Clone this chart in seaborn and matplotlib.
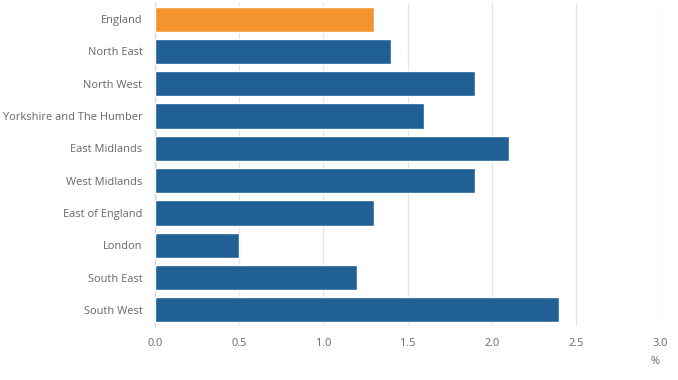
import matplotlib
matplotlib.use("Agg")
import matplotlib.pyplot as plt
import seaborn as sns
import pandas as pd
import numpy as np

# Regions and their values (%)
regions = ["England", "North East", "North West", "Yorkshire and The Humber",
           "East Midlands", "West Midlands", "East of England", "London",
           "South East", "South West"]
values = [1.3, 1.4, 1.9, 1.6, 2.1, 1.9, 1.3, 0.5, 1.2, 2.4]
x_ticks = [0.0, 0.5, 1.0, 1.5, 2.0, 2.5, 3.0]

blue = "#206095"
orange = "#f39431"
grey_text = "#666666"
axis_col = "#ccd6eb"

df = pd.DataFrame({"region": regions, "value": values})
palette = {r: (orange if r == "England" else blue) for r in regions}

sns.set_theme(style="white")
plt.rcParams["font.family"] = ["Open Sans", "DejaVu Sans"]

fig = plt.figure(figsize=(6.78, 3.80), dpi=100)
ax = fig.add_axes([155 / 678, 1 - 326 / 380, 505 / 678, 323 / 380])

sns.barplot(data=df, y="region", x="value", hue="region", palette=palette,
            order=regions, width=0.78, legend=False, saturation=1, ax=ax, zorder=3)

ax.set_xlim(0, 3.0)
ax.set_ylim(len(regions) - 0.5, -0.5)
ax.set_xticks(x_ticks)
ax.set_xticklabels([f"{t:.1f}" for t in x_ticks])
ax.xaxis.grid(True, color="#e6e6e6", linewidth=1, zorder=0)
ax.set_axisbelow(True)

for s in ["top", "right", "bottom"]:
    ax.spines[s].set_visible(False)
ax.spines["left"].set_color(axis_col)
ax.spines["left"].set_linewidth(1)

ax.tick_params(axis="x", length=0, labelsize=7.9, labelcolor=grey_text, pad=9)
ax.tick_params(axis="y", which="major", length=0, labelsize=7.9,
               labelcolor=grey_text, pad=9)
ax.set_yticks(np.arange(-0.5, len(regions), 1.0), minor=True)
ax.tick_params(axis="y", which="minor", length=10, color=axis_col, width=1)

ax.set_xlabel("")
ax.set_ylabel("")
fig.text(655 / 678, 1 - 362 / 380, "%", ha="center", va="center",
         fontsize=7.9, color=grey_text)

fig.savefig("out.png", dpi=100)
